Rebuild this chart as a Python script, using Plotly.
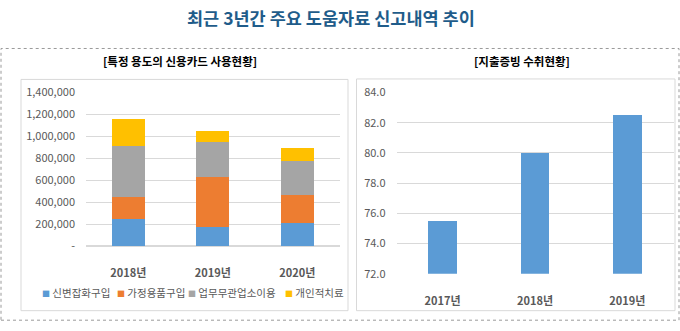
import plotly.graph_objects as go

W, H = 680, 331

# ---- data ----
years_left = ["2018년", "2019년", "2020년"]
series_names = ["신변잡화구입", "가정용품구입", "업무무관업소이용", "개인적치료"]
series_colors = ["#5B9BD5", "#ED7D31", "#A5A5A5", "#FFC000"]
s_goods = [251000, 176000, 210000]
s_home = [196000, 450000, 254000]
s_biz = [468000, 327000, 310000]
s_med = [242000, 100000, 121000]
series_values = [s_goods, s_home, s_biz, s_med]

left_tickvals = [0, 200000, 400000, 600000, 800000, 1000000, 1200000, 1400000]
left_ticktext = ["-", "200,000", "400,000", "600,000", "800,000", "1,000,000", "1,200,000", "1,400,000"]

years_right = ["2017년", "2018년", "2019년"]
receipt_values = [75.5, 80.0, 82.5]
right_tickvals = [72, 74, 76, 78, 80, 82, 84]

title = "최근 3년간 주요 도움자료 신고내역 추이"
sub_left = "[특정 용도의 신용카드 사용현황]"
sub_right = "[지출증빙 수취현황]"


def px(x):
    return x / W


def py(y):
    return 1 - y / H


FONT = "Noto Sans CJK KR"
TXT = "#595959"

fig = go.Figure()

for name, color, vals in zip(series_names, series_colors, series_values):
    fig.add_trace(go.Bar(
        x=years_left, y=vals, name=name, marker=dict(color=color, line=dict(width=0)),
        xaxis="x", yaxis="y", showlegend=False,
    ))

fig.add_trace(go.Bar(
    x=years_right, y=[v - 72 for v in receipt_values], base=72, marker=dict(color="#5B9BD5", line=dict(width=0)),
    xaxis="x2", yaxis="y2", showlegend=False, width=0.31,
))

axis_font = dict(family=FONT, size=11, color=TXT)

fig.update_layout(
    width=W, height=H,
    margin=dict(l=0, r=0, t=0, b=0),
    paper_bgcolor="white", plot_bgcolor="white",
    barmode="stack", bargap=0.61,
    xaxis=dict(domain=[px(86), px(339.5)], anchor="y", showgrid=False, showline=False,
               tickfont=dict(family=FONT, size=11, color=TXT, weight="bold"), ticks="", ticklabelstandoff=19),
    yaxis=dict(domain=[py(249.3), py(87.7)], anchor="x", range=[0, 1400000],
               tickvals=left_tickvals, ticktext=left_ticktext, tickfont=axis_font,
               showgrid=True, gridcolor="#D9D9D9", gridwidth=1, zeroline=True, zerolinecolor="#D9D9D9",
               showline=False, ticklabelstandoff=10),
    xaxis2=dict(domain=[px(396.5), px(673.5)], anchor="y2", showgrid=False, showline=False,
                tickfont=dict(family=FONT, size=11, color=TXT, weight="bold"), ticks="", ticklabelstandoff=19),
    yaxis2=dict(domain=[py(278.3), py(87.7)], anchor="x2", range=[72, 84],
                tickvals=right_tickvals, tickformat=".1f", tickfont=axis_font,
                showgrid=True, gridcolor="#D9D9D9", gridwidth=1, zeroline=False,
                showline=False, ticklabelstandoff=10),
    shapes=[
        dict(type="rect", xref="paper", yref="paper", x0=px(1), x1=px(679), y0=py(327), y1=py(41.5),
             line=dict(color="#9A9A9A", width=1, dash="dot"), layer="below"),
        dict(type="rect", xref="paper", yref="paper", x0=px(21), x1=px(348), y0=py(317), y1=py(74),
             line=dict(color="#D9D9D9", width=1), layer="below"),
        dict(type="rect", xref="paper", yref="paper", x0=px(356.5), x1=px(675), y0=py(317), y1=py(73.5),
             line=dict(color="#D9D9D9", width=1), layer="below"),
    ],
)

annotations = [
    dict(text=title, x=px(331), y=py(9), xref="paper", yref="paper", showarrow=False,
         font=dict(family=FONT, size=17.5, color="#1F5C8A", weight="bold"), xanchor="center", yanchor="middle"),
    dict(text=sub_left, x=px(180), y=py(55), xref="paper", yref="paper", showarrow=False,
         font=dict(family=FONT, size=11.5, color="#000000", weight="bold"), xanchor="center", yanchor="middle"),
    dict(text=sub_right, x=px(522), y=py(55), xref="paper", yref="paper", showarrow=False,
         font=dict(family=FONT, size=11.5, color="#000000", weight="bold"), xanchor="center", yanchor="middle"),
]

legend_x = [40, 115, 186, 283]
for name, color, lx in zip(series_names, series_colors, legend_x):
    annotations.append(dict(
        text=f"<span style='color:{color};font-size:8px'>■</span> {name}",
        x=px(lx), y=py(298), xref="paper", yref="paper", showarrow=False,
        font=dict(family=FONT, size=10.5, color=TXT), xanchor="left", yanchor="middle"))

fig.update_layout(annotations=annotations)

fig.write_html("out.html")
